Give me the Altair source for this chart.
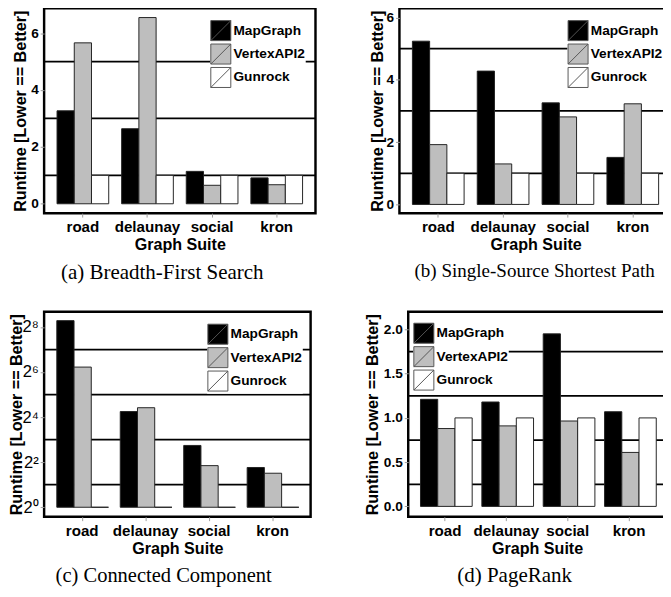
import altair as alt
import pandas as pd

graphs = ["road", "delaunay", "social", "kron"]
systems = ["MapGraph", "VertexAPI2", "Gunrock"]
fills = ["#000000", "#BEBEBE", "#FFFFFF"]

# (a) Breadth-First Search
bfs_mapgraph = [3.27, 2.64, 1.14, 0.91]
bfs_vertexapi2 = [5.66, 6.55, 0.65, 0.67]
bfs_gunrock = [1.0, 1.0, 1.0, 1.0]

# (b) Single-Source Shortest Path
sssp_mapgraph = [5.24, 4.28, 3.26, 1.51]
sssp_vertexapi2 = [1.92, 1.30, 2.81, 3.23]
sssp_gunrock = [1.0, 1.0, 1.0, 1.0]

# (c) Connected Component (log2 axis)
cc_mapgraph = [312.0, 19.0, 6.7, 3.4]
cc_vertexapi2 = [74.7, 21.4, 3.6, 2.85]
cc_gunrock = [1.0, 1.0, 1.0, 1.0]

# (d) PageRank
pr_mapgraph = [1.21, 1.18, 1.95, 1.07]
pr_vertexapi2 = [0.88, 0.91, 0.965, 0.61]
pr_gunrock = [1.0, 1.0, 1.0, 1.0]

y_title = "Runtime [Lower == Better]"
x_title = "Graph Suite"
SANS = "Liberation Sans"
SERIF = "Liberation Serif"


def make_df(mg, va, gr):
    rows = []
    for i, g in enumerate(graphs):
        for s, vals in zip(systems, [mg, va, gr]):
            rows.append({"graph": g, "system": s, "value": vals[i]})
    return pd.DataFrame(rows)


def panel(df, width, domain, ticks, grid_vals, base, caption, cap_dx, cap_size,
          leg_x, leg_y, title_x, scale_type="linear", label_expr=None,
          fmt=None, label_weight="bold", label_size=14):
    if scale_type == "log":
        yscale = alt.Scale(type="log", base=2, domain=domain, nice=False)
    else:
        yscale = alt.Scale(domain=domain, nice=False, zero=False)
    axis_kw = dict(
        values=ticks, title=y_title, grid=False, domain=False,
        labelFont=SANS, labelFontSize=label_size, labelFontWeight=label_weight,
        labelColor="black", labelPadding=2, tickColor="#9a9a9a", tickSize=4,
        titleFont=SANS, titleFontSize=16.5, titleFontWeight="bold",
        titleColor="black", titleX=title_x, titleBaseline="middle",
        titleAngle=270,
    )
    if label_expr:
        axis_kw["labelExpr"] = label_expr
    if fmt:
        axis_kw["format"] = fmt
    yaxis = alt.Axis(**axis_kw)

    grid_df = pd.DataFrame({"value": grid_vals})
    rules = alt.Chart(grid_df).mark_rule(color="black", strokeWidth=1.8).encode(
        y=alt.Y("value:Q", scale=yscale, axis=yaxis)
    )
    bars = alt.Chart(df).mark_bar(stroke="#222222", strokeWidth=1).encode(
        x=alt.X(
            "graph:N", sort=graphs,
            scale=alt.Scale(paddingInner=0.2, paddingOuter=0.2),
            axis=alt.Axis(
                title=x_title, labelAngle=0, domain=False, grid=False,
                labelOverlap=False, labelBound=False,
                labelFont=SANS, labelFontSize=15.5, labelFontWeight="bold",
                labelColor="black", labelPadding=3, tickColor="#9a9a9a",
                tickSize=4, titleFont=SANS, titleFontSize=16.5,
                titleFontWeight="bold", titleColor="black", titlePadding=2,
            ),
        ),
        xOffset=alt.XOffset("system:N", sort=systems,
                            scale=alt.Scale(domain=systems, paddingInner=0,
                                            paddingOuter=0)),
        y=alt.Y("value:Q", scale=yscale, axis=yaxis),
        y2=alt.datum(base),
        color=alt.Color(
            "system:N",
            scale=alt.Scale(domain=systems, range=fills),
            legend=alt.Legend(
                title=None, orient="none", legendX=leg_x, legendY=leg_y,
                symbolType="M-1,-1H1V1H-1Z M-1,1L1,-1", symbolSize=420,
                symbolStrokeColor="#555555", symbolStrokeWidth=1,
                symbolOpacity=1,
                labelFont=SANS, labelFontSize=14, labelFontWeight="bold",
                labelColor="black", labelOffset=2, fillColor="white",
                padding=0, rowPadding=-4, symbolOffset=0,
            ),
        ),
    )
    return alt.layer(rules, bars).properties(
        width=width, height=210,
        title=alt.TitleParams(
            text=caption, orient="bottom", anchor="middle", frame="group",
            font=SERIF, fontSize=cap_size, fontWeight="normal", color="black",
            offset=9, dx=cap_dx,
        ),
    )


pa = panel(make_df(bfs_mapgraph, bfs_vertexapi2, bfs_gunrock), 278,
           [-0.33, 6.88], [0, 2, 4, 6], [1, 3, 5], 0,
           "(a) Breadth-First Search", -18, 21.5, 170, 12, -24)
pb = panel(make_df(sssp_mapgraph, sssp_vertexapi2, sssp_gunrock), 279,
           [-0.28, 6.3], [0, 2, 4, 6], [1, 3, 5], 0,
           "(b) Single-Source Shortest Path", -1, 19.5, 172, 12, -22)
cc_expr = ("datum.value == 1 ? '2\u2070' : datum.value == 4 ? '2\u00b2' : "
           "datum.value == 16 ? '2\u2074' : datum.value == 64 ? '2\u2076' : '2\u2078'")
pc = panel(make_df(cc_mapgraph, cc_vertexapi2, cc_gunrock), 273,
           [0.747, 410], [1, 4, 16, 64, 256], [2, 8, 32, 128], 1,
           "(c) Connected Component", -14, 21, 167, 12, -28, scale_type="log",
           label_expr=cc_expr, label_weight="normal", label_size=17)
pd_ = panel(make_df(pr_mapgraph, pr_vertexapi2, pr_gunrock), 264,
            [-0.117, 2.2], [0, 0.5, 1.0, 1.5, 2.0], [0.25, 0.75, 1.25, 1.75], 0,
            "(d) PageRank", -23, 21.5, 5, 11, -36, fmt=".1f")

row1 = alt.hconcat(pa, pb, spacing=51).resolve_scale(color="independent").resolve_legend(color="independent")
row2 = alt.hconcat(pc, pd_, spacing=51).resolve_scale(color="independent").resolve_legend(color="independent")

chart = alt.vconcat(row1, row2, spacing=26).resolve_scale(
    color="independent").resolve_legend(color="independent").properties(
    padding={"left": -1, "top": -9, "right": -12, "bottom": 0},
    background="white",
).configure_view(stroke="black", strokeWidth=2.5)

chart.save("out.html", embed_options={"renderer": "svg", "actions": False})
